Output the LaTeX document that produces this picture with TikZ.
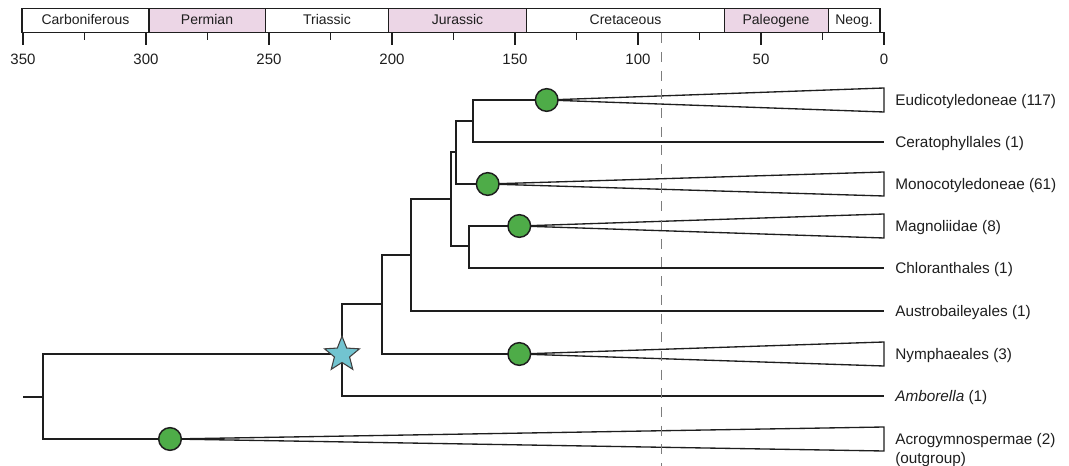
\documentclass[tikz,border=0pt]{standalone}
\usepackage{fontspec}
\setmainfont{Liberation Sans}
\usetikzlibrary{shapes.geometric,calc}

\definecolor{ink}{RGB}{30,30,30}
\definecolor{periodpink}{RGB}{236,214,230}
\definecolor{nodegreen}{RGB}{78,172,72}
\definecolor{stemcyan}{RGB}{114,196,208}
\definecolor{guide}{RGB}{125,125,125}

\begin{document}
\begin{tikzpicture}[x=0.75pt,y=-0.75pt,
  frame/.style={draw=ink,line width=1.1pt},
  periodbox/.style={frame,fill=white},
  pinkbox/.style={frame,fill=periodpink},
  periodlabel/.style={anchor=base,inner sep=0,text=ink,font=\fontsize{10.5}{12}\selectfont},
  ticklabel/.style={anchor=base,inner sep=0,text=ink,font=\fontsize{11.25}{13}\selectfont},
  majortick/.style={draw=ink,line width=1.1pt},
  minortick/.style={draw=ink,line width=1.1pt},
  branch/.style={draw=ink,line width=1.5pt},
  clade/.style={draw=ink,fill=white,line width=1pt,line join=miter},
  dot/.style={circle,draw=ink,fill=nodegreen,line width=1.1pt,inner sep=0,minimum size=17pt},
  crownstar/.style={star,star points=5,star point ratio=2.3,draw=ink!85,fill=stemcyan,
    line width=0.8pt,inner sep=0,minimum size=27.5pt},
  taxon/.style={anchor=base west,inner sep=0,text=ink,font=\fontsize{11.5}{13}\selectfont},
  ageline/.style={draw=guide,line width=0.8pt,dash pattern=on 7.5pt off 6.5pt}
]
\useasboundingbox (0,0) rectangle (1069,466);

% ---- geological periods ----
\draw[periodbox] (22,8.3)    rectangle (149,32.3);
\draw[pinkbox]   (149,8.3)   rectangle (265.5,32.3);
\draw[periodbox] (265.5,8.3) rectangle (388.3,32.3);
\draw[pinkbox]   (388.3,8.3) rectangle (526.7,32.3);
\draw[periodbox] (526.7,8.3) rectangle (724.3,32.3);
\draw[pinkbox]   (724.3,8.3) rectangle (828.3,32.3);
\draw[periodbox] (828.3,8.3) rectangle (880,32.3);

\node[periodlabel] (pCarb) at (85.5,25)  {Carboniferous};
\node[periodlabel] (pPerm) at (207,25)   {Permian};
\node[periodlabel] (pTria) at (327,25)   {Triassic};
\node[periodlabel] (pJura) at (457.5,25) {Jurassic};
\node[periodlabel] (pCret) at (625.5,25) {Cretaceous};
\node[periodlabel] (pPale) at (776,25)   {Paleogene};
\node[periodlabel] (pNeog) at (854,25)   {Neog.};

% ---- time axis (Ma) ----
\draw[frame] (22,32.3) -- (884,32.3);
\foreach \t in {350,300,...,0}{
  \draw[majortick] ({884-2.46*\t},32.3) -- ({884-2.46*\t},45);
  \node[ticklabel] at ({884-2.46*\t},65) {\t};
}
\foreach \t in {325,275,...,25}{
  \draw[minortick] ({884-2.46*\t},32.3) -- ({884-2.46*\t},40);
}

% ---- tree nodes ----
\coordinate (root) at (43,397);
\coordinate (stub) at (23,397);
\coordinate (n7) at (342,354);
\coordinate (n6) at (382,304);
\coordinate (n5) at (411,255);
\coordinate (n3) at (451,199);
\coordinate (n2) at (456,152);
\coordinate (n1) at (473,121);
\coordinate (n4) at (469,246);

% tips at the present
\coordinate (eE)  at (884,100);
\coordinate (eC)  at (884,142);
\coordinate (eMo) at (884,184);
\coordinate (eMa) at (884,226);
\coordinate (eCh) at (884,268);
\coordinate (eAu) at (884,311);
\coordinate (eN)  at (884,354);
\coordinate (eAm) at (884,396);
\coordinate (eAc) at (884,439);

% crown-group origins
\coordinate (dE)  at (546.7,100);
\coordinate (dMo) at (487.7,184);
\coordinate (dMa) at (519.3,226);
\coordinate (dN)  at (519.3,354);
\coordinate (dAc) at (170,439);

% ---- branches ----
\draw[branch] (dE) -| (n1) |- (eC);
\draw[branch] (n1) -| (n2) |- (dMo);
\draw[branch] (dMa) -| (n4) |- (eCh);
\draw[branch] (n2) -| (n3) |- (n4);
\draw[branch] (n3) -| (n5) |- (eAu);
\draw[branch] (n5) -| (n6) |- (dN);
\draw[branch] (n6) -| (n7) |- (eAm);
\draw[branch] (n7) -| (root) |- (dAc);
\draw[branch] (stub) -- (root);

% ---- collapsed clades ----
\foreach \d/\e in {dE/eE,dMo/eMo,dMa/eMa,dN/eN,dAc/eAc}{
  \draw[clade] (\d) -- ($(\e)+(0,-12)$) -- ($(\e)+(0,12)$) -- cycle;
}

% ---- age guide at 90 Ma ----
\draw[ageline] (661.7,33.5) -- (661.7,466);

% ---- markers ----
\node[dot] (mE)  at (dE)  {};
\node[dot] (mMo) at (dMo) {};
\node[dot] (mMa) at (dMa) {};
\node[dot] (mN)  at (dN)  {};
\node[dot] (mAc) at (dAc) {};
\node[crownstar] (crown) at (342,354.5) {};

% ---- taxon labels ----
\node[taxon] (tE)  at (895,105.5) {Eudicotyledoneae (117)};
\node[taxon] (tC)  at (895,147.5) {Ceratophyllales (1)};
\node[taxon] (tMo) at (895,189.5) {Monocotyledoneae (61)};
\node[taxon] (tMa) at (895,231.5) {Magnoliidae (8)};
\node[taxon] (tCh) at (895,273.5) {Chloranthales (1)};
\node[taxon] (tAu) at (895,316.5) {Austrobaileyales (1)};
\node[taxon] (tN)  at (895,359.5) {Nymphaeales (3)};
\node[taxon] (tAm) at (895,401.5) {\textit{Amborella} (1)};
\node[taxon] (tAc) at (895,444.5) {Acrogymnospermae (2)};
\node[taxon] (tOg) at (895,463.5) {(outgroup)};
\end{tikzpicture}
\end{document}
